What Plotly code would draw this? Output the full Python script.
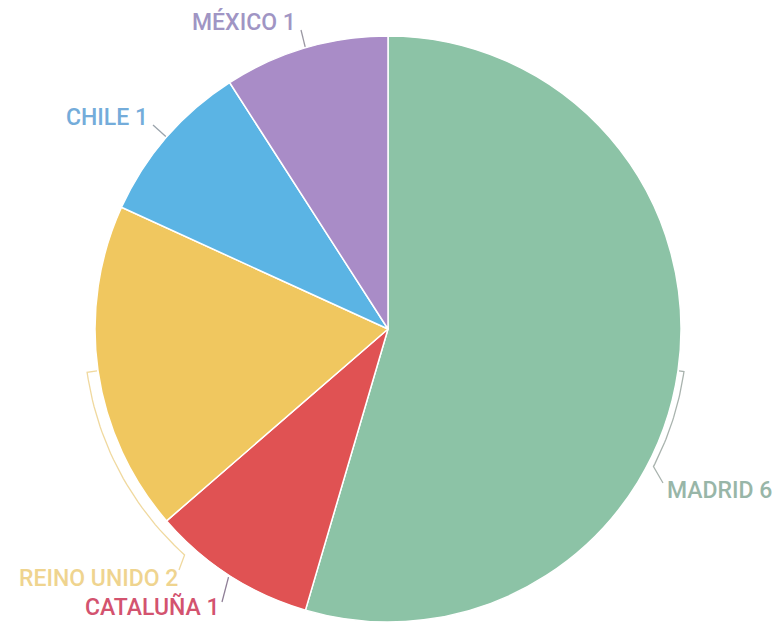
import math

import plotly.graph_objects as go

regions = ["MADRID", "CATALUÑA", "REINO UNIDO", "CHILE", "MÉXICO"]
counts = [6, 1, 2, 1, 1]
slice_colors = ["#8cc3a6", "#e05253", "#f0c75f", "#5bb4e4", "#a98cc7"]
label_colors = ["#98b6a8", "#d3536f", "#efd48f", "#74acda", "#a095c4"]
line_colors = ["#a9b3ae", "#8f7f97", "#f0d99f", "#9aa3ab", "#9b98a3"]

W, H = 773, 622
CX, CY, R = 388, 329, 293


def polar(angle, rad):
    a = math.radians(angle)
    return CX + rad * math.sin(a), CY - rad * math.cos(a)


total = sum(counts)
mids = []
acc = 0
for c in counts:
    mids.append((acc + c / 2) / total * 360)
    acc += c

fig = go.Figure()
fig.add_trace(go.Pie(
    values=counts, labels=regions, sort=False, direction="clockwise",
    textinfo="none", hoverinfo="label+value",
    marker={"colors": slice_colors, "line": {"color": "white", "width": 1.5}},
    domain={"x": [(CX - R) / W, (CX + R) / W], "y": [max(0, (H - CY - R) / H), (H - CY + R) / H]},
))

# label anchor (x, y, xanchor) for each slice
labels = {
    0: (665, 490, "left"),
    1: (222, 606, "right"),
    2: (180, 578, "right"),
    3: (150, 117, "right"),
    4: (298, 22, "right"),
}


def arc(a0, a1, rad, n=30):
    return [polar(a0 + (a1 - a0) * i / n, rad) for i in range(n + 1)]


paths = {
    0: [polar(mids[0], R + 1)] + arc(mids[0], 117.4, R + 6) + [(663, 483)],
    1: [polar(mids[1], R + 2), (222, 602)],
    2: [polar(mids[2], R + 1)] + arc(mids[2], 222, R + 11) + [(179, 570)],
    3: [polar(mids[3], R + 1), (153, 125)],
    4: [polar(mids[4], R + 1), (301, 30)],
}

for i, name in enumerate(regions):
    pts = paths[i]
    fig.add_trace(go.Scatter(
        x=[p[0] for p in pts], y=[p[1] for p in pts], mode="lines",
        line={"color": line_colors[i], "width": 1.3}, hoverinfo="skip", showlegend=False,
    ))
    lx, ly, anchor = labels[i]
    fig.add_annotation(
        x=lx, y=ly, xref="x", yref="y", text=f"{name} {counts[i]}", showarrow=False,
        xanchor=anchor, yanchor="middle",
        font={"family": "Roboto", "size": 23, "color": label_colors[i], "weight": 500},
    )

fig.update_layout(
    width=W, height=H, margin={"l": 0, "r": 0, "t": 0, "b": 0},
    paper_bgcolor="white", plot_bgcolor="rgba(0,0,0,0)", showlegend=False,
    xaxis={"range": [0, W], "visible": False, "fixedrange": True},
    yaxis={"range": [H, 0], "visible": False, "fixedrange": True},
)

fig.write_html("out.html", config={"displayModeBar": False},
               post_script="document.body.style.margin = '0';")
